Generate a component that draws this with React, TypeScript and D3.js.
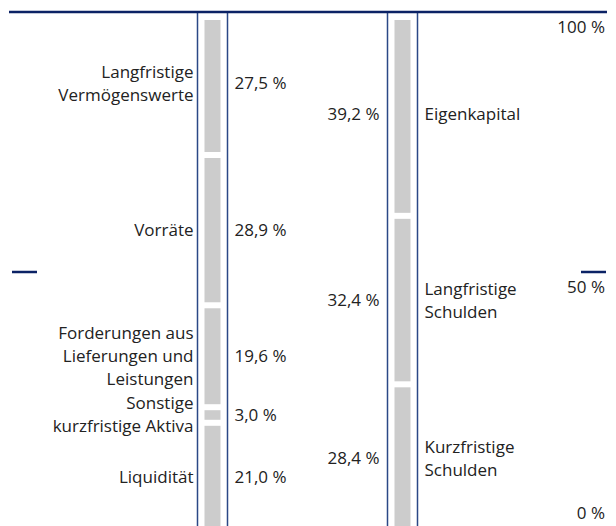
import React, { useEffect, useRef } from 'react';
import * as d3 from 'd3';

const assetLabels = [
  'Langfristige\nVermögenswerte',
  'Vorräte',
  'Forderungen aus\nLieferungen und\nLeistungen',
  'Sonstige\nkurzfristige Aktiva',
  'Liquidität',
];
const assetValues = [27.5, 28.9, 19.6, 3.0, 21.0];

const liabilityLabels = ['Eigenkapital', 'Langfristige\nSchulden', 'Kurzfristige\nSchulden'];
const liabilityValues = [39.2, 32.4, 28.4];

const axisTicks = [100, 50, 0];

const fmt = (v: number) => v.toFixed(1).replace('.', ',') + ' %';

const App = () => {
  const ref = useRef<SVGSVGElement>(null);

  useEffect(() => {
    if (!ref.current) return;
    const width = 616;
    const height = 526;
    const navy = '#0b2265';
    const boxLine = '#2b4886';
    const textColor = '#222';

    const svg = d3.select(ref.current);
    svg.selectAll('*').remove();
    svg
      .attr('width', width)
      .attr('height', height)
      .attr('viewBox', [0, 0, width, height])
      .style('position', 'absolute')
      .style('left', '0px')
      .style('top', '0px')
      .style('font-family', "'Open Sans', sans-serif")
      .style('font-size', '17px');

    const y = d3.scaleLinear().domain([0, 100]).range([532, 12]);
    const x = d3.scaleOrdinal<string, number>().domain(['assets', 'liabilities']).range([212.5, 402.5]);
    const boxHalf = 15;
    const barHalf = 8;

    // segments stacked from the top (100 %) downwards
    const segments = (vals: number[]) => {
      const cum = d3.cumsum(vals);
      return vals.map((v, i) => ({ v, start: 100 - (cum[i] - v), end: 100 - cum[i] }));
    };

    // box lines
    ['assets', 'liabilities'].forEach(k => {
      [-boxHalf, boxHalf].forEach(dx => {
        svg.append('line')
          .attr('x1', x(k) + dx).attr('x2', x(k) + dx)
          .attr('y1', y(100)).attr('y2', height)
          .attr('stroke', boxLine).attr('stroke-width', 1.5);
      });
    });

    const drawColumn = (key: string, labels: string[], vals: number[], side: 'left' | 'right') => {
      const segs = segments(vals);
      const cx = x(key);
      const g = svg.append('g');
      const top = (d: any) => y(d.start) + (d.start === 100 ? 8 : 3);
      g.selectAll('rect')
        .data(segs)
        .join('rect')
        .attr('x', cx - barHalf)
        .attr('width', barHalf * 2)
        .attr('y', d => top(d))
        .attr('height', d => y(d.end) - 3 - top(d))
        .attr('fill', '#cccccc');

      segs.forEach((d, i) => {
        const mid = (y(d.start) + y(d.end)) / 2;
        const lines = labels[i].split('\n');
        const lineH = 23;
        const catX = side === 'left' ? cx - boxHalf - 4 : cx + boxHalf + 7;
        const valX = side === 'left' ? cx + boxHalf + 7 : cx - boxHalf - 8;
        const t = g.append('text')
          .attr('x', catX)
          .attr('text-anchor', side === 'left' ? 'end' : 'start')
          .attr('fill', textColor);
        lines.forEach((ln, j) => {
          t.append('tspan')
            .attr('x', catX)
            .attr('y', mid + (j - (lines.length - 1) / 2) * lineH)
            .attr('dy', '0.35em')
            .text(ln);
        });
        g.append('text')
          .attr('x', valX)
          .attr('y', mid)
          .attr('dy', '0.35em')
          .attr('text-anchor', side === 'left' ? 'start' : 'end')
          .attr('fill', textColor)
          .text(fmt(d.v));
      });
    };

    drawColumn('assets', assetLabels, assetValues, 'left');
    drawColumn('liabilities', liabilityLabels, liabilityValues, 'right');

    // top line at 100 %
    svg.append('line')
      .attr('x1', 9).attr('x2', 607)
      .attr('y1', y(100)).attr('y2', y(100))
      .attr('stroke', navy).attr('stroke-width', 2.5);

    // 50 % ticks
    [[12, 37], [581, 606]].forEach(([a, b]) => {
      svg.append('line')
        .attr('x1', a).attr('x2', b)
        .attr('y1', y(50)).attr('y2', y(50))
        .attr('stroke', navy).attr('stroke-width', 2.5);
    });

    svg.append('g')
      .selectAll('text')
      .data(axisTicks)
      .join('text')
      .attr('x', 605)
      .attr('y', d => (d === 0 ? y(0) - 19 : y(d) + 15))
      .attr('dy', '0.35em')
      .attr('text-anchor', 'end')
      .attr('fill', textColor)
      .text(d => d + ' %');
  }, []);

  return <svg ref={ref} />;
};

export default App;
